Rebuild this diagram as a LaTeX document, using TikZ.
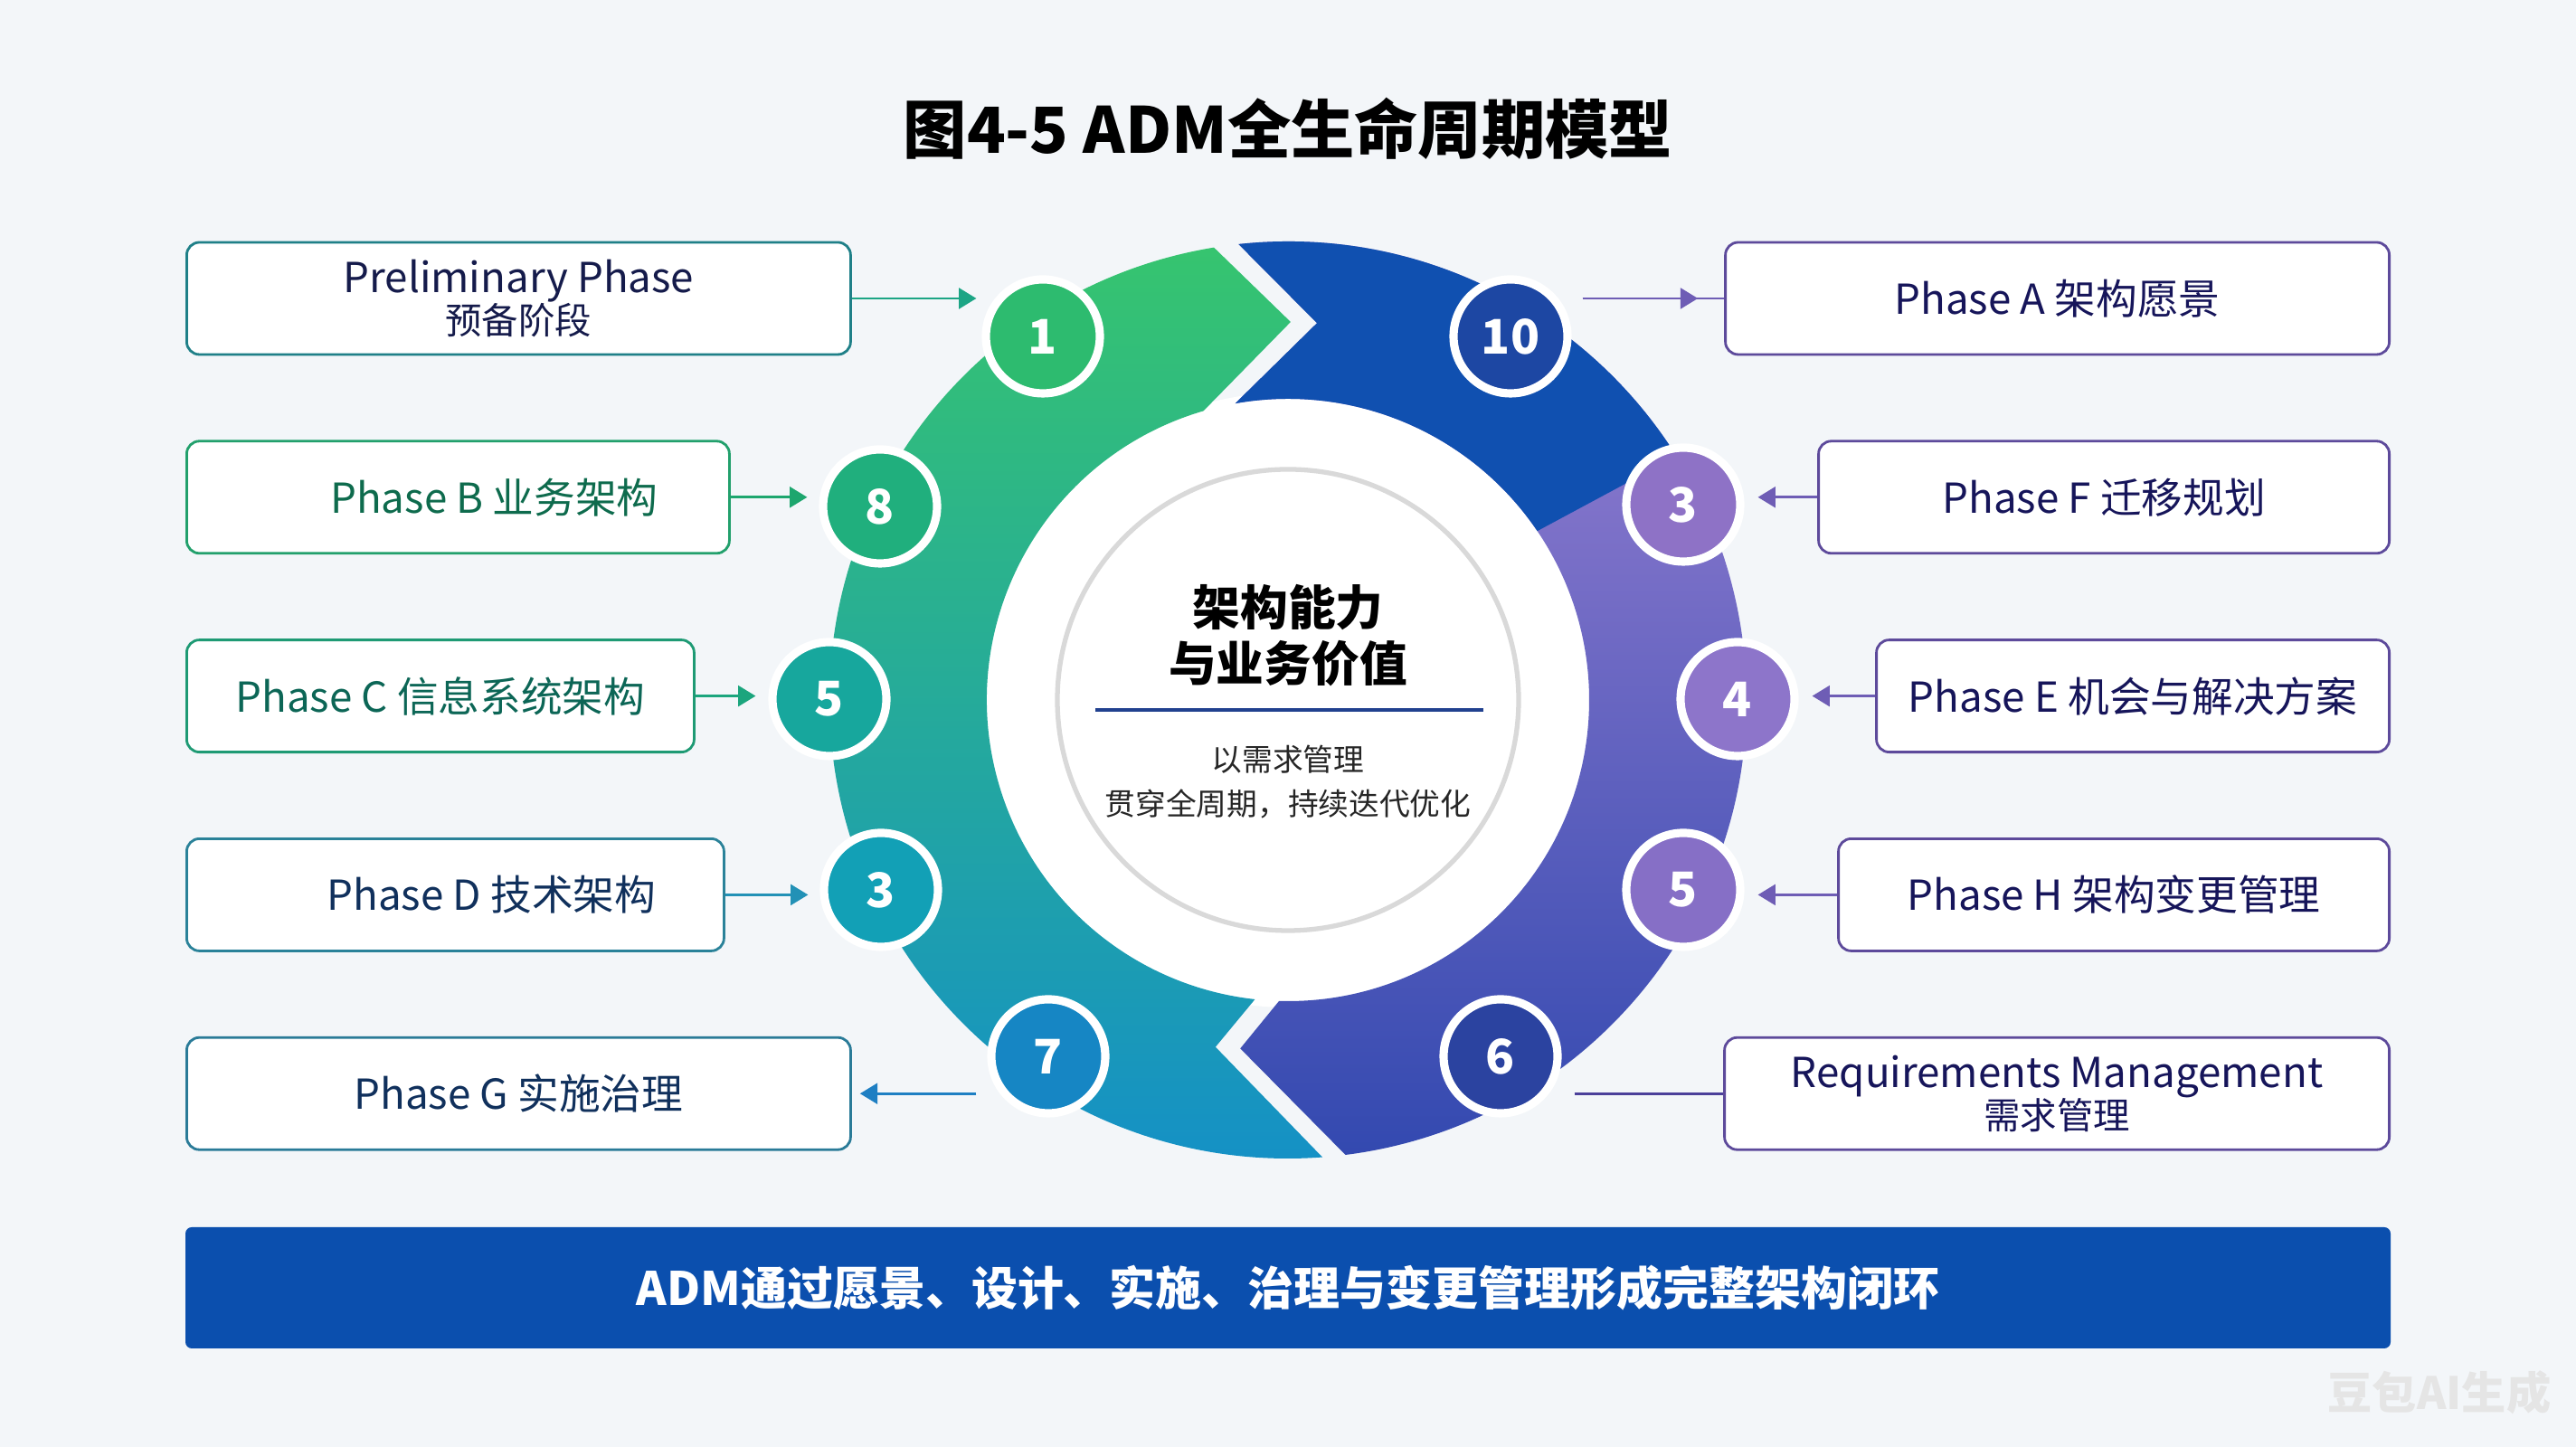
\documentclass[tikz,border=0pt]{standalone}
\usepackage{fontspec}
\setmainfont{Noto Sans CJK SC}
\usepackage{xcolor}
\usepackage{tikz}
\usetikzlibrary{arrows.meta, positioning}

\definecolor{bgcol}{HTML}{F3F6F9}
\definecolor{ringtop}{HTML}{36C46F}
\definecolor{ringmid}{HTML}{17AA9E}
\definecolor{ringbot}{HTML}{1490C7}
\definecolor{ringblue}{HTML}{1050B0}
\definecolor{purtop}{HTML}{A084D4}
\definecolor{purmid}{HTML}{8B74CB}
\definecolor{purbot}{HTML}{3349B0}
\definecolor{bannerblue}{HTML}{0B4FAE}
% circle colours
\definecolor{dotone}{HTML}{2DBB6F}
\definecolor{doteight}{HTML}{20AF7D}
\definecolor{dotfivel}{HTML}{17A79D}
\definecolor{dotthreel}{HTML}{12A0B6}
\definecolor{dotseven}{HTML}{1686C4}
\definecolor{dotten}{HTML}{1D47A3}
\definecolor{dotthreer}{HTML}{8E72C6}
\definecolor{dotfour}{HTML}{8D75CA}
\definecolor{dotfiver}{HTML}{866FC6}
\definecolor{dotsix}{HTML}{2B43A0}
% box colours
\definecolor{preborder}{HTML}{1F8088}
\definecolor{bborder}{HTML}{22A06C}
\definecolor{cborder}{HTML}{1E9A74}
\definecolor{dborder}{HTML}{2A8299}
\definecolor{gborder}{HTML}{2A7B98}
\definecolor{rborder}{HTML}{5D4A9B}
\definecolor{pretext}{HTML}{151B4B}
\definecolor{btext}{HTML}{0E6B4D}
\definecolor{ctext}{HTML}{0C6656}
\definecolor{dtext}{HTML}{10305C}
\definecolor{rtext}{HTML}{16155A}
\definecolor{prearrow}{HTML}{1CA585}
\definecolor{barrow}{HTML}{1DA66E}
\definecolor{carrow}{HTML}{1BA57D}
\definecolor{darrow}{HTML}{2291B6}
\definecolor{garrow}{HTML}{1E7FC3}
\definecolor{rarrow}{HTML}{6E5DB5}
\definecolor{reqline}{HTML}{4B409A}
\definecolor{sepblue}{HTML}{21418F}

\newcommand{\rightring}{([shift={(96.2:5.07)}]C) arc[start angle=96.2, end angle=-82.8, radius=5.07]
    -- ([shift={(-97.8:3.89)}]C) -- ([shift={(-91.7:3.33)}]C)
    arc[start angle=-91.7, end angle=100.1, radius=3.33]
    -- ([shift={(85.6:4.18)}]C) -- cycle}

\begin{document}
\begin{tikzpicture}[
    phasebox/.style={rectangle, draw, fill=white, rounded corners=4pt, line width=0.8pt, minimum height=1.24cm, align=center, font=\fontsize{13}{15}\selectfont},
    numdot/.style={circle, draw=white, line width=2.6pt, minimum size=1.26cm, inner sep=0pt, text=white, font=\bfseries\fontsize{15}{15}\selectfont},
    arrow/.style={thick,->,>={Stealth[inset=0pt,length=5.5pt,width=6.5pt]}},
    banner/.style={rectangle, fill=bannerblue, rounded corners=2pt, text=white, font=\bfseries\fontsize{14.5}{18}\selectfont}
]
\fill[bgcol] (0,0) rectangle (28.48,16);
\useasboundingbox (0,0) rectangle (28.48,16);

\coordinate (C) at (14.24,8.26);

% Title
\node[font=\bfseries\fontsize{20}{24}\selectfont] (title) at (14.24,14.58) {图4-5 ADM全生命周期模型};

% Ring
\fill[white] (C) circle (3.4);
\shade[top color=ringtop, middle color=ringmid, bottom color=ringbot]
    ([shift={(274.3:5.07)}]C) arc[start angle=274.3, end angle=99.3, radius=5.07]
    -- ([shift={(89.6:4.18)}]C) -- ([shift={(106.3:3.33)}]C)
    arc[start angle=106.3, end angle=263.7, radius=3.33]
    -- ([shift={(258.2:3.92)}]C) -- cycle;
\shade[top color=purtop, middle color=purmid, bottom color=purbot] \rightring;
\begin{scope}
    \clip \rightring;
    \fill[ringblue] (13,7.98) -- (21,12.28) -- (21,14) -- (13,14) -- cycle;
\end{scope}

% Centre
\draw[fill=white, draw=black!15, line width=1.5pt] (C) circle (2.55);
\node[font=\bfseries\fontsize{15}{17.6}\selectfont, align=center] (core) at (14.24,8.97) {架构能力\\与业务价值};
\coordinate (sepL) at (12.11,8.15);
\coordinate (sepR) at (16.40,8.15);
\draw[sepblue, line width=0.9pt] (sepL) -- (sepR);
\node[font=\fontsize{9.6}{13.9}\selectfont, align=center, text=black!85] (coresub) at (14.24,7.35) {以需求管理\\贯穿全周期，持续迭代优化};

% Step circles
\node[numdot, fill=dotone] (c1) at (11.53,12.28) {1};
\node[numdot, fill=doteight] (c8) at (9.73,10.40) {8};
\node[numdot, fill=dotfivel] (c5l) at (9.17,8.27) {5};
\node[numdot, fill=dotthreel] (c3l) at (9.74,6.16) {3};
\node[numdot, fill=dotseven] (c7) at (11.59,4.32) {7};
\node[numdot, fill=dotten] (c10) at (16.70,12.28) {10};
\node[numdot, fill=dotthreer] (c3r) at (18.61,10.42) {3};
\node[numdot, fill=dotfour] (c4) at (19.21,8.27) {4};
\node[numdot, fill=dotfiver] (c5r) at (18.61,6.16) {5};
\node[numdot, fill=dotsix] (c6) at (16.59,4.32) {6};

% Left boxes
\node[phasebox, draw=preborder, text=pretext, minimum width=7.34cm, anchor=west] (pre) at (2.05,12.70) {Preliminary Phase\\[-2pt]{\fontsize{11.5}{13}\selectfont 预备阶段}};
\node[phasebox, draw=bborder, text=btext, minimum width=6.00cm, below=0.93cm of pre.south west, anchor=north west] (pb) {\hspace*{0.8cm}Phase B 业务架构};
\node[phasebox, draw=cborder, text=ctext, minimum width=5.61cm, below=0.93cm of pb.south west, anchor=north west] (pc) {Phase C 信息系统架构};
\node[phasebox, draw=dborder, text=dtext, minimum width=5.94cm, below=0.93cm of pc.south west, anchor=north west] (pd) {\hspace*{0.8cm}Phase D 技术架构};
\node[phasebox, draw=gborder, text=dtext, minimum width=7.34cm, below=0.93cm of pd.south west, anchor=north west] (pg) {Phase G 实施治理};

% Right boxes
\node[phasebox, draw=rborder, text=rtext, minimum width=7.34cm, anchor=east] (pa) at (26.43,12.70) {Phase A 架构愿景};
\node[phasebox, draw=rborder, text=rtext, minimum width=6.31cm, below=0.93cm of pa.south east, anchor=north east] (pf) {Phase F 迁移规划};
\node[phasebox, draw=rborder, text=rtext, minimum width=5.67cm, below=0.93cm of pf.south east, anchor=north east] (pe) {Phase E 机会与解决方案};
\node[phasebox, draw=rborder, text=rtext, minimum width=6.09cm, below=0.93cm of pe.south east, anchor=north east] (ph) {Phase H 架构变更管理};
\node[phasebox, draw=rborder, text=rtext, minimum width=7.35cm, below=0.93cm of ph.south east, anchor=north east] (pr) {Requirements Management\\[-2pt]{\fontsize{11.5}{13}\selectfont 需求管理}};

% Arrows
\draw[arrow, prearrow, shorten >=0.06cm] (pre.east) -- (pre.east -| c1.west);
\draw[arrow, barrow, shorten >=0.13cm] (pb.east) -- (pb.east -| c8.west);
\draw[arrow, carrow, shorten >=0.14cm] (pc.east) -- (pc.east -| c5l.west);
\draw[arrow, darrow, shorten >=0.13cm] (pd.east) -- (pd.east -| c3l.west);
\draw[arrow, garrow, shorten <=0.12cm, shorten >=0.09cm] (pg.east -| c7.west) -- (pg.east);
\draw[rarrow, thick, shorten <=0.12cm] (pa.west -| c10.east) -- (pa.west);
\draw[arrow, rarrow, shorten <=0.12cm, shorten >=0.29cm] (pa.west -| c10.east) -- (pa.west);
\draw[arrow, rarrow, shorten >=0.15cm] (pf.west) -- (pf.west -| c3r.east);
\draw[arrow, rarrow, shorten >=0.15cm] (pe.west) -- (pe.west -| c4.east);
\draw[arrow, rarrow, shorten >=0.15cm] (ph.west) -- (ph.west -| c5r.east);
\draw[reqline, thick, shorten <=0.14cm] (pr.west -| c6.east) -- (pr.west);

% Banner
\node[banner, minimum width=24.38cm, minimum height=1.34cm] (note) at (14.24,1.76) {ADM通过愿景、设计、实施、治理与变更管理形成完整架构闭环};

% Watermark
\node[font=\bfseries\fontsize{14}{16}\selectfont, text=black!10] (mark) at (26.97,0.60) {豆包AI生成};

\end{tikzpicture}
\end{document}
